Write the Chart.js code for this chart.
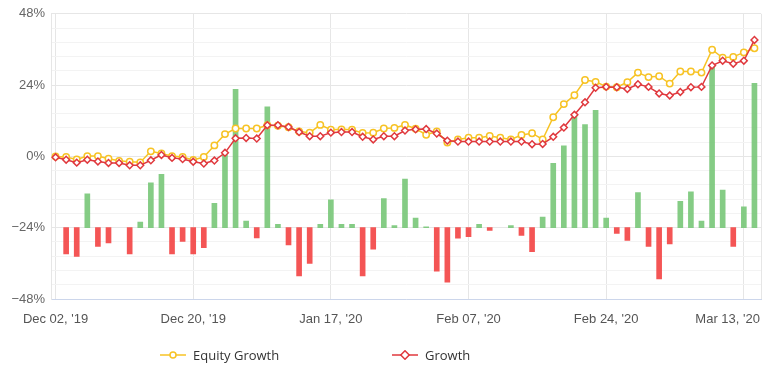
<!DOCTYPE html>
<html><head><meta charset="utf-8">
<script src="https://cdn.jsdelivr.net/npm/chart.js@4/dist/chart.umd.min.js"></script>
<style>
html,body{margin:0;padding:0;background:#fff;}
#wrap{position:relative;width:779px;height:380px;}
#legend{position:absolute;top:345px;left:0;width:779px;height:20px;font-family:"Open Sans",sans-serif;font-size:13px;color:#333;}
.item{position:absolute;top:0;display:flex;align-items:center;height:20px;white-space:nowrap;}
.item svg{margin-right:7px;}
</style></head><body>
<div id="wrap"><canvas id="c" width="779" height="380"></canvas>
<div id="legend">
<div class="item" style="left:160px"><svg width="26" height="10"><line x1="0" y1="5" x2="26" y2="5" stroke="#f7c325" stroke-width="1.5"/><circle cx="13" cy="5" r="3" fill="#fff" stroke="#f7c325" stroke-width="1.5"/></svg><span>Equity Growth</span></div>
<div class="item" style="left:392px"><svg width="26" height="10"><line x1="0" y1="5" x2="26" y2="5" stroke="#e0393e" stroke-width="1.5"/><rect x="10" y="2" width="6" height="6" transform="rotate(45 13 5)" fill="#fff" stroke="#e0393e" stroke-width="1.5"/></svg><span>Growth</span></div>
</div></div>
<script>
const seriesNames = ["Equity Growth", "Growth"];
const tickIndices = [0, 13, 26, 39, 52, 65];
const tickLabels = ["Dec 02, '19", "Dec 20, '19", "Jan 17, '20", "Feb 07, '20", "Feb 24, '20", "Mar 13, '20"];
const equityGrowth = [0,-0.2,-1.0,0.1,0.1,-0.8,-1.5,-1.8,-2.0,1.7,
1.0,0.1,-0.2,-1.2,-0.2,3.7,7.5,9.4,9.4,9.4,
10.5,10.3,9.8,8.4,8.0,10.6,9.0,9.1,9.0,7.9,
8.0,9.4,9.6,10.6,9.3,7.3,8.4,4.7,5.7,6.3,
6.3,6.9,6.3,5.7,7.2,7.8,5.7,13.2,17.6,20.6,
25.7,25.1,23.5,23.3,25.0,28.2,26.7,27.0,24.5,28.6,
28.6,28.2,35.9,33.2,33.5,35.0,36.4];
const growth = [-0.3,-1.1,-2.1,-1.1,-1.7,-2.2,-2.2,-3.0,-3.0,-1.3,
0.5,-0.5,-0.9,-1.8,-2.4,-1.4,1.2,6.1,6.2,6.0,
10.5,10.5,9.9,8.2,6.8,6.8,8.0,8.2,8.2,6.6,
5.7,6.8,6.8,8.7,9.1,9.2,7.7,5.3,5.0,5.0,
5.0,5.0,5.0,5.0,5.0,4.1,4.2,6.6,9.7,14.0,
18.2,23.1,23.4,23.3,22.7,24.3,23.4,21.2,20.5,21.7,
23.3,23.4,30.6,32.2,31.2,32.2,39.2];
const dailyChange = [null,-8.8,-9.7,11.4,-6.3,-5.1,null,-8.8,1.9,15.1,
18.0,-8.8,-4.6,-8.8,-6.7,8.2,24.5,46.6,2.2,-3.4,
40.7,1.1,-5.8,-16.2,-12.0,1.1,9.4,1.1,1.1,-16.2,
-7.2,9.8,0.7,16.4,3.2,0.3,-14.6,-18.3,-3.5,-3.0,
1.1,-0.9,null,0.7,-2.6,-8.1,3.6,21.7,27.6,38.1,
34.7,39.5,3.2,-1.9,-4.3,11.8,-6.3,-17.2,-5.5,8.9,
12.1,2.2,54.1,12.7,-6.3,7.0,48.6];

const toXY = arr => arr.map((v, i) => ({x: i, y: v}));
const GREEN = 'rgba(120,198,120,0.9)', RED = 'rgba(243,70,70,0.92)';
const TICK_FONT = {family: '"Liberation Sans", Arial, sans-serif', size: 13};
const lastTick = tickIndices[tickIndices.length - 1];

const framePlugin = {
  id: 'frame',
  beforeDatasetsDraw(chart) {
    const {ctx, chartArea: a} = chart;
    ctx.save();
    ctx.strokeStyle = '#e6e6e6';
    ctx.lineWidth = 1;
    ctx.beginPath();
    ctx.moveTo(Math.round(a.right) + 0.5, a.top);
    ctx.lineTo(Math.round(a.right) + 0.5, a.bottom);
    ctx.stroke();
    ctx.restore();
  },
  afterDraw(chart) {
    // last x label justified to stay inside the plot, as in the source chart
    const sx = chart.scales.x, a = chart.chartArea;
    const items = sx.getLabelItems();
    const ref = items.find(it => it.label);
    if (!ref) return;
    const ctx = chart.ctx;
    ctx.save();
    ctx.font = `${TICK_FONT.size}px ${TICK_FONT.family}`;
    ctx.fillStyle = '#555';
    ctx.textAlign = 'right';
    ctx.textBaseline = ref.options.textBaseline;
    ctx.fillText(tickLabels[tickLabels.length - 1], a.right - 1, ref.options.translation[1] + (ref.textOffset || 0));
    ctx.restore();
  }
};

new Chart(document.getElementById('c'), {
  data: {
    datasets: [
      {type: 'line', label: seriesNames[0], data: toXY(equityGrowth), yAxisID: 'y', order: 2,
       borderColor: '#f7c325', borderWidth: 1.5, pointRadius: 3.2, pointBorderWidth: 1.5,
       pointBackgroundColor: '#fff', pointBorderColor: '#f7c325', pointStyle: 'circle', tension: 0},
      {type: 'line', label: seriesNames[1], data: toXY(growth), yAxisID: 'y', order: 1,
       borderColor: '#e0393e', borderWidth: 1.5, pointRadius: 3.4, pointBorderWidth: 1.5,
       pointBackgroundColor: '#fff', pointBorderColor: '#e0393e', pointStyle: 'rectRot', tension: 0},
      {type: 'bar', label: 'Daily', data: toXY(dailyChange), yAxisID: 'y2', order: 3,
       barThickness: 5,
       backgroundColor: ctx => (ctx.raw && ctx.raw.y >= 0) ? GREEN : RED}
    ]
  },
  options: {
    responsive: false, animation: false,
    layout: {padding: {top: 9, right: 18, left: 0, bottom: 0}},
    plugins: {legend: {display: false}, tooltip: {enabled: false}},
    scales: {
      x: {
        type: 'linear', min: -0.43, max: 66.62, offset: false,
        afterBuildTicks: s => { s.ticks = tickIndices.map(v => ({value: v})); },
        afterFit: s => { s.height = 81; },
        ticks: {autoSkip: false, maxRotation: 0, padding: 13, color: '#555', font: TICK_FONT,
          callback: v => { const k = tickIndices.indexOf(v); return (k >= 0 && v !== lastTick) ? tickLabels[k] : ''; }},
        grid: {color: '#e6e6e6', drawTicks: false, offset: false},
        border: {color: '#ccd6eb'}
      },
      y: {
        type: 'linear', min: -48, max: 48, position: 'left',
        afterBuildTicks: s => { s.ticks = Array.from({length: 21}, (_, k) => ({value: Math.round((-48 + 4.8 * k) * 10) / 10})); },
        afterFit: s => { s.width = 51; },
        ticks: {autoSkip: false, padding: 6, color: '#666', font: TICK_FONT,
          callback: v => (v % 24 === 0) ? (v < 0 ? '\u2212' + Math.abs(v) : v) + '%' : ''},
        grid: {drawTicks: false, color: c => (c.tick && c.tick.value % 24 === 0) ? '#e6e6e6' : '#f3f3f3'},
        border: {color: '#e6e6e6'}
      },
      y2: {type: 'linear', min: -24, max: 72, display: false}
    }
  },
  plugins: [framePlugin]
});
</script>
</body></html>
